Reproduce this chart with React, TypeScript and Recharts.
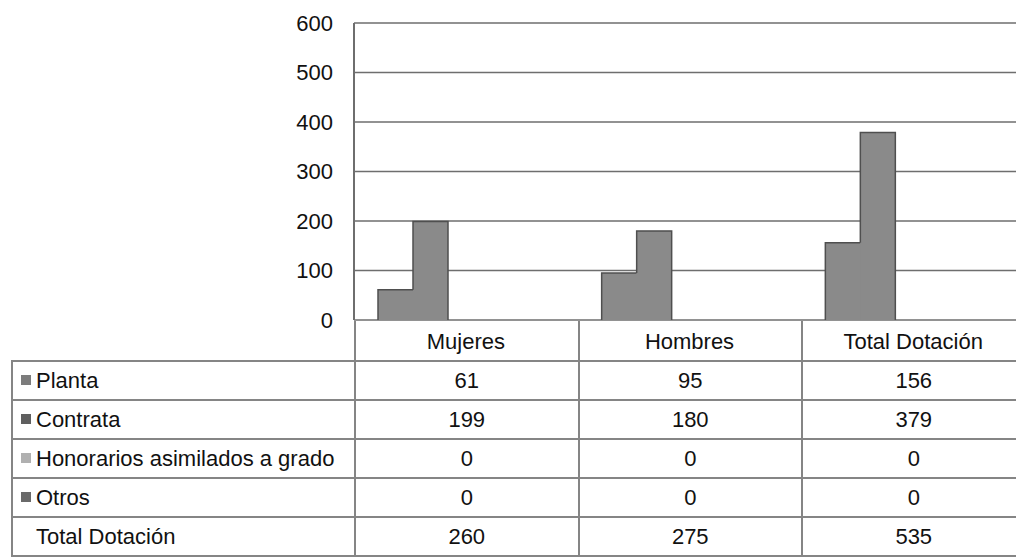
import { BarChart, Bar, XAxis, YAxis, CartesianGrid } from 'recharts';

const categories = ['Mujeres', 'Hombres', 'Total Dotación'];
const planta = [61, 95, 156];
const contrata = [199, 180, 379];
const honorarios = [0, 0, 0];
const otros = [0, 0, 0];
const totalDotacion = [260, 275, 535];
const yTicks = [0, 100, 200, 300, 400, 500, 600];

const rows = [
  { name: 'Planta', values: planta, marker: '#7c7c7c' },
  { name: 'Contrata', values: contrata, marker: '#5f5f5f' },
  { name: 'Honorarios asimilados a grado', values: honorarios, marker: '#b0b0b0' },
  { name: 'Otros', values: otros, marker: '#6a6a6a' },
  { name: 'Total Dotación', values: totalDotacion, marker: null as string | null },
];

const data = categories.map((c, i) => ({
  name: c,
  planta: planta[i],
  contrata: contrata[i],
  honorarios: honorarios[i],
  otros: otros[i],
  total: totalDotacion[i],
}));

const font = '"Liberation Sans", Arial, sans-serif';
const line = '2px solid #858585';
const colW = 223.5;
const barFill = '#8a8a8a';
const barEdge = '#4f4f4f';

// the two visible bars touch, so the shared edge is left out of the outline
function PlantaShape(props: any) {
  const { x, y, width, height } = props;
  if (!height) return null;
  return (
    <g>
      <rect x={x} y={y} width={width + 1} height={height} fill={barFill} />
      <path
        d={`M${x + width},${y} L${x},${y} L${x},${y + height}`}
        fill="none"
        stroke={barEdge}
        strokeWidth={1.5}
      />
    </g>
  );
}

function ContrataShape(props: any) {
  const { x, y, width, height, payload } = props;
  if (!height) return null;
  const perUnit = height / payload.contrata;
  const leftEnd = y + height - Math.min(payload.planta, payload.contrata) * perUnit;
  return (
    <g>
      <rect x={x} y={y} width={width} height={height} fill={barFill} />
      <path
        d={`M${x},${leftEnd} L${x},${y} L${x + width},${y} L${x + width},${y + height}`}
        fill="none"
        stroke={barEdge}
        strokeWidth={1.5}
      />
    </g>
  );
}

export default function App() {
  return (
    <div
      style={{
        position: 'absolute',
        left: 0,
        top: 0,
        width: 1016,
        height: 560,
        overflow: 'hidden',
        background: '#fff',
        fontFamily: font,
      }}
    >
      <BarChart
        width={1025}
        height={560}
        data={data}
        margin={{ top: 23, right: 0, bottom: 200, left: 274 }}
        barGap={0}
        barSize={35}
      >
        <CartesianGrid vertical={false} stroke="#6e6e6e" strokeWidth={1.5} />
        <XAxis
          dataKey="name"
          height={40}
          axisLine={false}
          tickLine={false}
          tickMargin={7}
          tick={{ fill: '#111', fontSize: 22, fontFamily: font }}
        />
        <YAxis
          width={80}
          domain={[0, 600]}
          ticks={yTicks}
          tickLine={false}
          axisLine={{ stroke: '#6e6e6e', strokeWidth: 2 }}
          tickMargin={15}
          tick={{ fill: '#111', fontSize: 22, fontFamily: font }}
        />
        <Bar dataKey="planta" fill={barFill} shape={<PlantaShape />} isAnimationActive={false} />
        <Bar dataKey="contrata" fill={barFill} shape={<ContrataShape />} isAnimationActive={false} />
        <Bar dataKey="honorarios" fill="#b0b0b0" isAnimationActive={false} />
        <Bar dataKey="otros" fill="#6a6a6a" isAnimationActive={false} />
        <Bar dataKey="total" fill="none" isAnimationActive={false} />
      </BarChart>

      <table
        style={{
          position: 'absolute',
          left: 11,
          top: 321,
          borderCollapse: 'collapse',
          tableLayout: 'fixed',
          width: 343 + colW * 3,
          fontFamily: font,
          fontSize: 22,
          color: '#111',
        }}
      >
        <colgroup>
          <col style={{ width: 343 }} />
          <col style={{ width: colW }} />
          <col style={{ width: colW }} />
          <col style={{ width: colW }} />
        </colgroup>
        <tbody>
          <tr style={{ height: 40 }}>
            <td style={{ borderRight: line, borderBottom: line, padding: 0 }} />
            {categories.map((c) => (
              <td key={c} style={{ borderLeft: line, borderRight: line, borderBottom: line, padding: 0 }} />
            ))}
          </tr>
          {rows.map((r) => (
            <tr key={r.name} style={{ height: 39 }}>
              <td
                style={{
                  border: line,
                  padding: '0 0 0 8px',
                  whiteSpace: 'nowrap',
                  lineHeight: '37px',
                }}
              >
                <span
                  style={{
                    display: 'inline-block',
                    width: 10,
                    height: 10,
                    marginRight: 5,
                    background: r.marker ?? 'transparent',
                    verticalAlign: 'middle',
                    position: 'relative',
                    top: -2,
                  }}
                />
                {r.name}
              </td>
              {r.values.map((v, i) => (
                <td key={i} style={{ border: line, textAlign: 'center', padding: 0, lineHeight: '37px' }}>
                  {v}
                </td>
              ))}
            </tr>
          ))}
        </tbody>
      </table>
    </div>
  );
}
